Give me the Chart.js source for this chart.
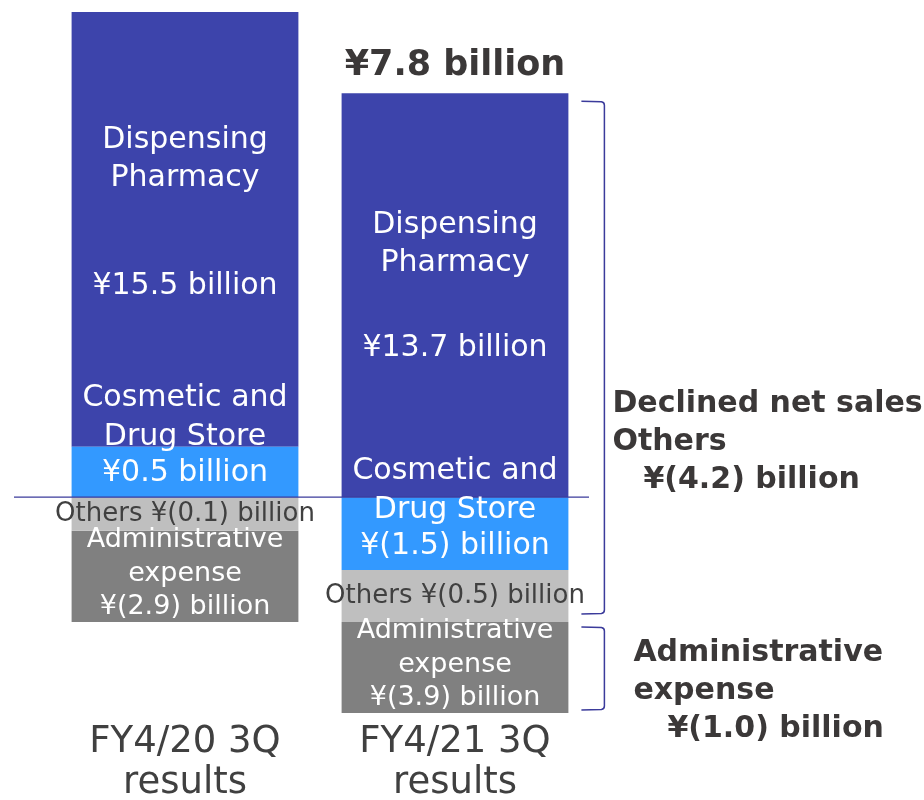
<!DOCTYPE html>
<html>
<head>
<meta charset="utf-8">
<script src="https://cdn.jsdelivr.net/npm/chart.js@4.4.1/dist/chart.umd.min.js"></script>
<style>
  html, body { margin: 0; padding: 0; background: #fff; }
</style>
</head>
<body>
<canvas id="myChart" width="924" height="800"></canvas>
<script>
(function () {
  'use strict';

  // x-axis categories
  var categories = [['FY4/20 3Q', 'results'], ['FY4/21 3Q', 'results']];

  // values printed on the slide (billion yen)
  var dispensingValues = [15.5, 13.7];
  var cosmeticValues = [0.5, -1.5];
  var othersValues = [-0.1, -0.5];
  var adminValues = [-2.9, -3.9];
  var totalProfit = 7.8;
  var declinedOthers = -4.2;
  var adminChange = -1.0;

  // bar heights as drawn on the slide (the slide is not to scale)
  var dispensingBars = [15.5, 14.4];
  var cosmeticBars = [1.8, -2.6];
  var othersBars = [-1.2, -1.85];
  var adminBars = [-3.25, -3.25];

  var FONT = "'DejaVu Sans', Verdana, sans-serif";

  function yen(v) {
    if (v < 0) return '¥(' + Math.abs(v).toFixed(1) + ') billion';
    return '¥' + v.toFixed(1) + ' billion';
  }

  function seg(chart, ds, i) {
    var el = chart.getDatasetMeta(ds).data[i];
    return {
      x: el.x,
      right: el.x + el.width / 2,
      top: Math.min(el.y, el.base),
      bottom: Math.max(el.y, el.base)
    };
  }

  function text(ctx, str, x, y, font, color, align, baseline) {
    ctx.font = font;
    ctx.fillStyle = color;
    ctx.textAlign = align || 'center';
    ctx.textBaseline = baseline || 'middle';
    ctx.fillText(str, x, y);
  }

  var slidePlugin = {
    id: 'slideLabels',
    afterDatasetsDraw: function (chart) {
      var ctx = chart.ctx;
      var area = chart.chartArea;
      var zeroY = chart.scales.y.getPixelForValue(0);

      ctx.save();

      // zero line
      ctx.strokeStyle = '#3b3b9b';
      ctx.lineWidth = 1.2;
      ctx.beginPath();
      ctx.moveTo(area.left - 36, zeroY);
      ctx.lineTo(area.right - 1, zeroY);
      ctx.stroke();

      var white = '#ffffff';
      var dark = '#404040';
      var inBar = '30px ' + FONT;

      for (var i = 0; i < categories.length; i++) {
        // dispensing pharmacy
        var d = seg(chart, 1, i);
        var dOff = i === 0 ? 0 : 4;
        text(ctx, 'Dispensing', d.x, d.top + 128 + dOff, inBar, white);
        text(ctx, 'Pharmacy', d.x, d.top + 166 + dOff, inBar, white);
        text(ctx, yen(dispensingValues[i]), d.x, d.top + 0.63 * (d.bottom - d.top), inBar, white);

        // cosmetic and drug store
        var c = seg(chart, 0, i);
        text(ctx, 'Cosmetic and', c.x, c.bottom - 99, inBar, white);
        text(ctx, 'Drug Store', c.x, c.bottom - 60, inBar, white);
        text(ctx, yen(cosmeticValues[i]), c.x, c.bottom - 24, inBar, white);

        // others
        var o = seg(chart, 2, i);
        text(ctx, 'Others ' + yen(othersValues[i]), o.x, (o.top + o.bottom) / 2, '26px ' + FONT, dark);

        // administrative expense
        var a = seg(chart, 3, i);
        text(ctx, 'Administrative', a.x, a.top + 9, '27px ' + FONT, white);
        text(ctx, 'expense', a.x, a.top + 43, '27px ' + FONT, white);
        text(ctx, yen(adminValues[i]), a.x, a.top + 76, '27px ' + FONT, white);
      }

      // total above the second bar
      var d2 = seg(chart, 1, 1);
      text(ctx, yen(totalProfit), d2.x, d2.top - 18, 'bold 35px ' + FONT, '#3b3838', 'center', 'alphabetic');

      // brackets on the right of the second bar
      var o2 = seg(chart, 2, 1);
      var a2 = seg(chart, 3, 1);
      var bx = d2.right + 36;
      var hx = d2.right + 13;

      function bracket(top, bottom) {
        ctx.strokeStyle = '#3b3b9b';
        ctx.lineWidth = 1.5;
        ctx.beginPath();
        ctx.moveTo(hx, top);
        ctx.lineTo(bx - 3, top + 0.5);
        ctx.quadraticCurveTo(bx, top + 1, bx, top + 4);
        ctx.lineTo(bx, bottom - 4);
        ctx.quadraticCurveTo(bx, bottom - 1, bx - 3, bottom - 0.5);
        ctx.lineTo(hx, bottom);
        ctx.stroke();
      }

      var b1Top = d2.top + 8, b1Bottom = o2.bottom - 8;
      var b2Top = a2.top + 5, b2Bottom = a2.bottom - 3;
      bracket(b1Top, b1Bottom);
      bracket(b2Top, b2Bottom);

      var bold = 'bold 30px ' + FONT;
      var note = '#3b3838';
      var m1 = (b1Top + b1Bottom) / 2;
      text(ctx, 'Declined net sales', d2.right + 44, m1 + 54.5, bold, note, 'left', 'alphabetic');
      text(ctx, 'Others', d2.right + 44, m1 + 92.5, bold, note, 'left', 'alphabetic');
      text(ctx, yen(declinedOthers), d2.right + 75, m1 + 130.5, bold, note, 'left', 'alphabetic');

      var m2 = (b2Top + b2Bottom) / 2;
      text(ctx, 'Administrative', d2.right + 65, m2 - 7.5, bold, note, 'left', 'alphabetic');
      text(ctx, 'expense', d2.right + 65, m2 + 30.5, bold, note, 'left', 'alphabetic');
      text(ctx, yen(adminChange), d2.right + 99, m2 + 68.5, bold, note, 'left', 'alphabetic');

      ctx.restore();
    }
  };

  var ctx = document.getElementById('myChart').getContext('2d');
  var chart = new Chart(ctx, {
    type: 'bar',
    data: {
      labels: categories,
      datasets: [
        {
          label: 'Cosmetic and Drug Store',
          backgroundColor: '#3399ff',
          data: cosmeticBars
        },
        {
          label: 'Dispensing Pharmacy',
          backgroundColor: '#3d44ab',
          data: dispensingBars
        },
        {
          label: 'Others',
          backgroundColor: '#bfbfbf',
          data: othersBars
        },
        {
          label: 'Administrative expense',
          backgroundColor: '#808080',
          data: adminBars
        }
      ]
    },
    options: {
      responsive: false,
      animation: false,
      devicePixelRatio: 1,
      layout: {
        padding: { left: 50, right: 334, top: 12, bottom: -12.5 }
      },
      datasets: {
        bar: {
          barPercentage: 1,
          categoryPercentage: 0.84,
          borderWidth: 0
        }
      },
      plugins: {
        legend: { display: false },
        tooltip: { enabled: false }
      },
      scales: {
        x: {
          stacked: true,
          grid: { display: false, drawTicks: false, tickLength: 0 },
          border: { display: false },
          ticks: {
            color: '#404040',
            padding: 9,
            font: { family: FONT, size: 37, lineHeight: 1.1 }
          }
        },
        y: {
          display: false,
          stacked: true,
          min: -7.7,
          max: 17.3
        }
      }
    },
    plugins: [slidePlugin]
  });
})();
</script>
</body>
</html>
